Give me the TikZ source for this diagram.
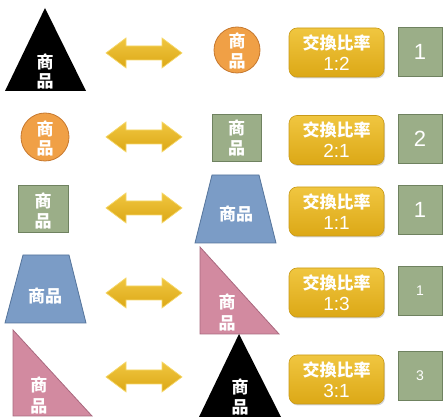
\documentclass[tikz,border=0pt]{standalone}
\usepackage{fontspec}
\newfontfamily\cjk{Noto Sans CJK TC}
\newfontfamily\digits{Liberation Sans}
\usetikzlibrary{shadows}
\definecolor{orangef}{HTML}{F0A046}
\definecolor{oranged}{HTML}{C6782E}
\definecolor{greenf}{HTML}{9BAE88}
\definecolor{greend}{HTML}{6F8260}
\definecolor{bluef}{HTML}{7B9CC6}
\definecolor{blued}{HTML}{55749B}
\definecolor{pinkf}{HTML}{D28AA0}
\definecolor{pinkd}{HTML}{A8687E}
\definecolor{goldt}{HTML}{F0C640}
\definecolor{goldb}{HTML}{DCA816}
\definecolor{goldd}{HTML}{C99A18}
\definecolor{goldl}{HTML}{F6D86A}
\tikzset{
  lbl/.style={text=white,font=\cjk\bfseries\fontsize{17}{17}\selectfont,inner sep=0pt},
  ratiobox/.style={draw=goldd,line width=0.6pt,top color=goldt,bottom color=goldb,rounded corners=8pt,
    minimum width=95pt,minimum height=49pt,inner sep=0pt,align=center,text=white,
    font=\cjk\bfseries\fontsize{17}{21}\selectfont,
    drop shadow={opacity=0.35,shadow xshift=1pt,shadow yshift=-1.5pt}},
  numbox/.style={draw=greend,line width=0.6pt,fill=greenf,minimum width=44pt,minimum height=49pt,inner sep=0pt,text=white},
  bignum/.style={numbox,font=\digits\fontsize{22}{22}\selectfont},
  smallnum/.style={numbox,font=\digits\fontsize{14}{14}\selectfont},
  dblarrow/.style={draw=goldl,line width=0.7pt,top color=goldt,bottom color=goldb,line join=miter},
  blacktri/.style={fill=black},
  orangec/.style={circle,fill=orangef,draw=oranged,line width=0.8pt,inner sep=0pt},
  greensq/.style={fill=greenf,draw=greend,line width=0.8pt},
  bluetr/.style={fill=bluef,draw=blued,line width=0.8pt},
  pinktr/.style={fill=pinkf,draw=pinkd,line width=0.8pt}
}
\newcommand{\xarrow}[2]{%
  \coordinate (#1) at #2;
  \draw[dblarrow,shift={#2}] (-38,0) -- (-18,-15) -- (-18,-7) -- (18,-7) -- (18,-15) -- (38,0)
    -- (18,15) -- (18,7) -- (-18,7) -- (-18,15) -- cycle;}
\newcommand{\rt}[1]{{\digits\mdseries\fontsize{19}{21}\selectfont #1}}
\begin{document}
\begin{tikzpicture}[x=1pt,y=-1pt]
\useasboundingbox (0,0) rectangle (445,419);
% Row 1
\fill[blacktri] (5,91) -- (45,8) -- (86,91) -- cycle;
\node[lbl] (t1a) at (45,62) {商};
\node[lbl] (t1b) at (45,81) {品};
\xarrow{a1}{(144,53)}
\node[orangec,minimum size=46pt] (c1) at (237,50) {};
\node[lbl] (c1a) at (237,41) {商};
\node[lbl] (c1b) at (237,61) {品};
\node[ratiobox] (r1) at (336.5,52.5) {交換比率\\\rt{1:2}};
\node[bignum] (n1) at (420,51.5) {1};
% Row 2
\node[orangec,minimum size=48pt] (c2) at (45,137) {};
\node[lbl] (c2a) at (45,129) {商};
\node[lbl] (c2b) at (45,148) {品};
\xarrow{a2}{(144,137)}
\draw[greensq] (212,114) rectangle (261,161);
\node[lbl] (s2a) at (236.5,128) {商};
\node[lbl] (s2b) at (236.5,148) {品};
\node[ratiobox] (r2) at (336.5,140) {交換比率\\\rt{2:1}};
\node[bignum] (n2) at (420,138.5) {2};
% Row 3
\draw[greensq] (18,185) rectangle (68,232);
\node[lbl] (s3a) at (43,201) {商};
\node[lbl] (s3b) at (43,221) {品};
\xarrow{a3}{(144,208)}
\draw[bluetr] (195,243) -- (212,175) -- (259,175) -- (276,243) -- cycle;
\node[lbl] (b3) at (236,214) {商品};
\node[ratiobox] (r3) at (336.5,211.5) {交換比率\\\rt{1:1}};
\node[bignum] (n3) at (420,210) {1};
% Row 4
\draw[bluetr] (5,323) -- (23,255) -- (69,255) -- (86,323) -- cycle;
\node[lbl] (b4) at (45,296) {商品};
\xarrow{a4}{(144,293)}
\draw[pinktr] (200,247) -- (200,334) -- (279,334) -- cycle;
\node[lbl] (p4a) at (227,302) {商};
\node[lbl] (p4b) at (227,323) {品};
\node[ratiobox] (r4) at (336.5,292.5) {交換比率\\\rt{1:3}};
\node[smallnum] (n4) at (420,291) {1};
% Row 5
\draw[pinktr] (13,330) -- (13,416) -- (92,416) -- cycle;
\node[lbl] (p5a) at (39,385) {商};
\node[lbl] (p5b) at (39,406) {品};
\xarrow{a5}{(144,377)}
\fill[blacktri] (199,417) -- (239,334) -- (281,417) -- cycle;
\node[lbl] (t5a) at (240,387) {商};
\node[lbl] (t5b) at (240,407) {品};
\node[ratiobox] (r5) at (336.5,379.5) {交換比率\\\rt{3:1}};
\node[smallnum] (n5) at (420,376) {3};
\end{tikzpicture}
\end{document}
